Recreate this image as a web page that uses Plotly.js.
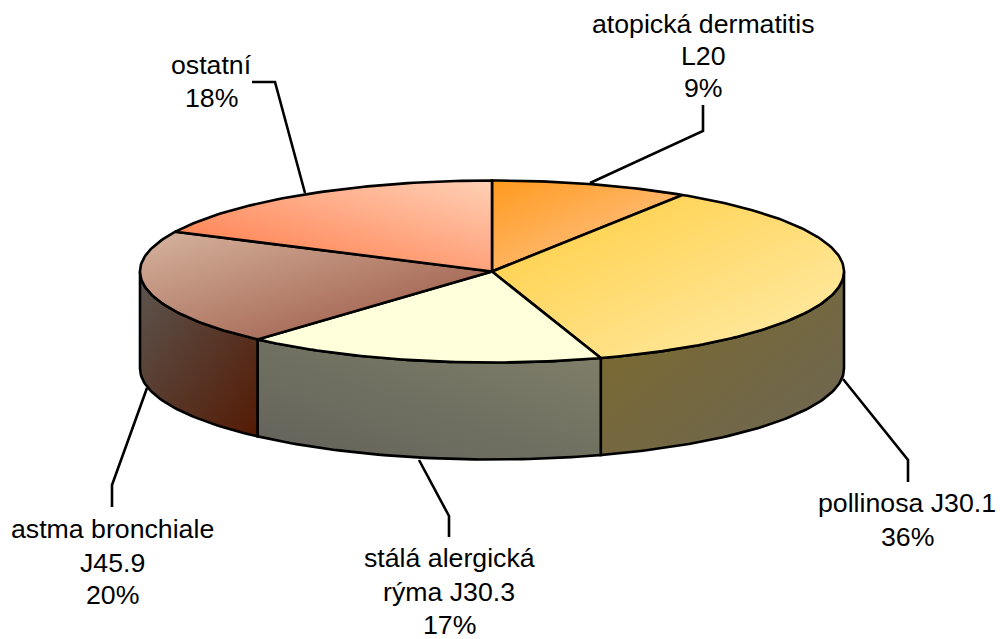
<!DOCTYPE html>
<html><head><meta charset="utf-8">
<script src="https://cdn.plot.ly/plotly-3.0.1.min.js"></script>
<style>html,body{margin:0;padding:0;background:#fff}#chart{width:1000px;height:639px}</style>
</head><body><div id="chart"></div>
<script>
// Data
const categories = [["atopická dermatitis","L20"],["pollinosa J30.1"],["stálá alergická","rýma J30.3"],["astma bronchiale","J45.9"],["ostatní"]];
const percentLabels = ["9%","36%","17%","20%","18%"];
const sliceValues = [9.1,35.9,16.6,20.6,17.8];

// Styles: [start colour, end colour] and gradient direction
const topColors = [["#FF9A1E","#FFCB9E"],["#FFCC3C","#FFEDAE"],["#FFFFDC","#FFFFDC"],["#D6B49E","#96503E"],["#FF7440","#FFD0B6"]];
const sideColors = [null,["#7E6A28","#6C6656"],["#62625A","#80806A"],["#5C5650","#541A04"],null];
const topDirs = [[1,1,0,0],[1,1,0,0],[1,1,0,0],[1,1,0,0],[1,0,0,1]];
const sideDirs = [null,[1,1,0,0],[1,0,0,1],[1,1,0,0],null];

// Placement (pixel space of the hidden axes)
const pie = {cx:492, cy:271.5, rx:352, ry:91, depth:97};
const labelCentre = [703,907,449,112,211];
const labelRows = [[24,56,88],[503,537],[558,592,625],[529,563,595],[65,98]];
const leaderPaths = ["M590,183L703,131L703,105","M843,379L908,460L908,482","M419,460L449,516L449,537","M147,388L112,485L112,507","M305,193L275,82L252,82"];

const total = sliceValues.reduce((a,b)=>a+b,0);
const ptX = a => pie.cx + pie.rx*Math.sin(a*Math.PI/180);
const ptY = (a,d) => pie.cy - pie.ry*Math.cos(a*Math.PI/180) + (d||0);
function arc(a0,a1){const n=Math.max(2,Math.ceil(Math.abs(a1-a0)));const o=[];for(let i=0;i<=n;i++)o.push(a0+(a1-a0)*i/n);return o;}

const traces=[];const dirs=[];
function addPoly(xs,ys,cols,dir,name){
  const uid='poly'+traces.length;
  traces.push({type:'scatter',mode:'lines',x:xs,y:ys,fill:'toself',uid:uid,name:name,
    line:{color:'#000',width:2.6},hoverinfo:'name',
    fillgradient:{type:'horizontal',colorscale:[[0,cols[0]],[1,cols[1]]]}});
  dirs.push({uid:uid,dir:dir});
}
let cum=0;const spans=sliceValues.map(v=>{const s=[cum,cum+v/total*360];cum=s[1];return s;});
// front wall first
spans.forEach((s,i)=>{
  const a0=Math.max(s[0],90),a1=Math.min(s[1],270);
  if(a1<=a0||!sideColors[i])return;
  const f=arc(a0,a1),b=arc(a1,a0);
  const xs=f.map(ptX).concat(b.map(ptX),[ptX(a0)]);
  const ys=f.map(a=>ptY(a,0)).concat(b.map(a=>ptY(a,pie.depth)),[ptY(a0,0)]);
  addPoly(xs,ys,sideColors[i],sideDirs[i],categories[i].join(' '));
});
// top faces
spans.forEach((s,i)=>{
  const f=arc(s[0],s[1]);
  const xs=[pie.cx].concat(f.map(ptX),[pie.cx]);
  const ys=[pie.cy].concat(f.map(a=>ptY(a,0)),[pie.cy]);
  addPoly(xs,ys,topColors[i],topDirs[i],categories[i].join(' '));
});

const annotations=[];
categories.forEach((c,i)=>{
  c.concat([percentLabels[i]]).forEach((line,j)=>{
    annotations.push({xref:'x',yref:'y',x:labelCentre[i],y:labelRows[i][j],xanchor:'center',yanchor:'middle',
      text:line,showarrow:false,align:'center',borderpad:0,
      font:{family:'"Liberation Sans",Arial,sans-serif',size:26.7,color:'#000'}});
  });
});
const shapes=leaderPaths.map(p=>({type:'path',path:p,xref:'x',yref:'y',layer:'below',line:{color:'#000',width:2.6}}));

const layout={width:1000,height:639,margin:{l:0,r:0,t:0,b:0},showlegend:false,
  paper_bgcolor:'#fff',plot_bgcolor:'#fff',
  xaxis:{range:[0,1000],visible:false,fixedrange:true},
  yaxis:{range:[639,0],visible:false,fixedrange:true},
  annotations:annotations,shapes:shapes};

Plotly.newPlot('chart',traces,layout,{displayModeBar:false,staticPlot:true}).then(gd=>{
  dirs.forEach(d=>{
    if(!d.dir)return;
    const g=gd.querySelector('linearGradient[id$="scatterfill-'+d.uid+'"]');
    if(!g)return;
    g.setAttribute('x1',d.dir[0]);g.setAttribute('y1',d.dir[1]);
    g.setAttribute('x2',d.dir[2]);g.setAttribute('y2',d.dir[3]);
  });
});
</script></body></html>
